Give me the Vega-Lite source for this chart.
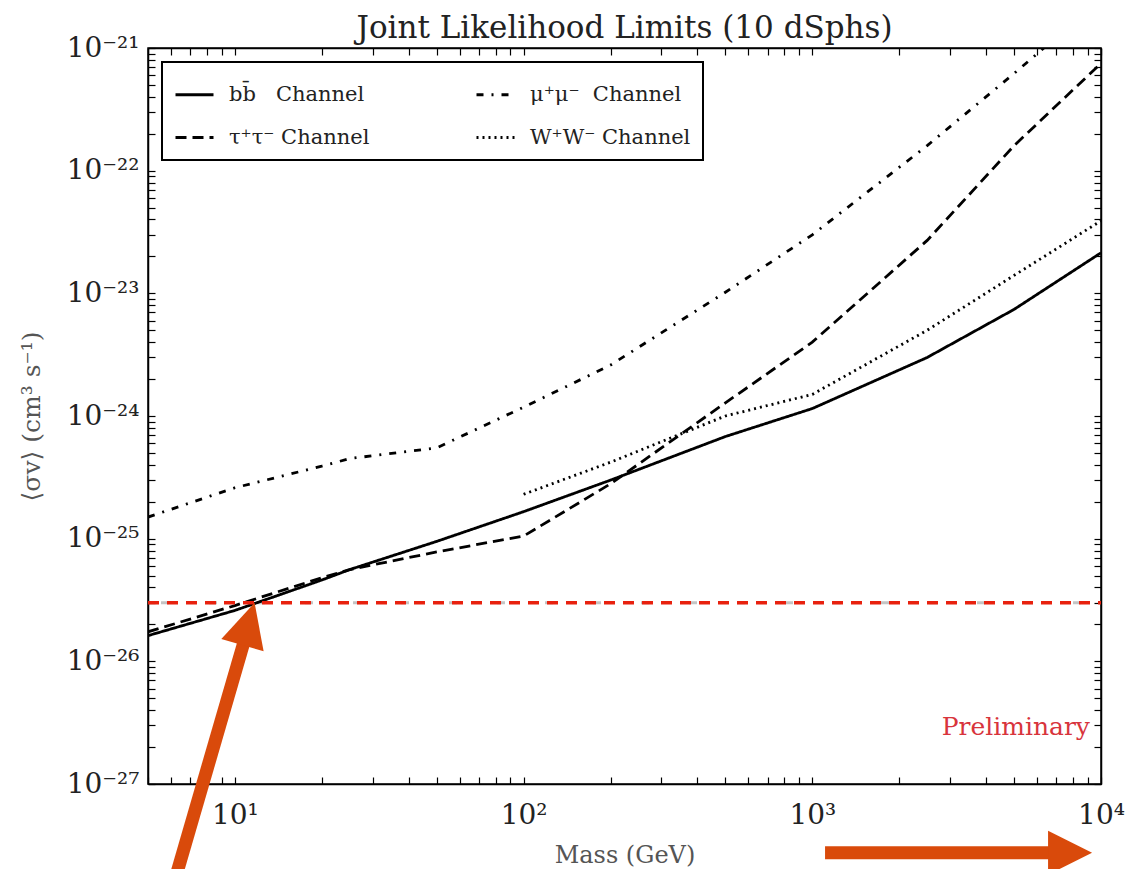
{
  "$schema": "https://vega.github.io/schema/vega-lite/v6.json",
  "width": 953,
  "height": 736,
  "autosize": {"type": "none"},
  "padding": {"left": 148, "top": 48, "right": 28, "bottom": 85},
  "background": "white",
  "title": {"text": "Joint Likelihood Limits (10 dSphs)", "font": "DejaVu Serif", "fontSize": 31, "fontWeight": "normal", "color": "#222", "offset": 6, "dy": 17, "anchor": "middle"},
  "config": {
    "view": {"stroke": "black", "strokeWidth": 1.5},
    "axis": {"domainColor": "black", "domainWidth": 1.5, "tickColor": "black", "tickWidth": 1.2, "grid": false, "labelFont": "DejaVu Serif", "labelFontSize": 28, "labelColor": "#222", "titleFont": "DejaVu Serif", "titleFontWeight": "normal", "titleColor": "#555"},
    "legend": {"labelFont": "DejaVu Serif", "labelFontSize": 21, "labelColor": "#222", "strokeWidth": 2}
  },
  "datasets": {
    "curves": [
      {"channel": "bb", "mass": 5, "sv": 1.62e-26},
      {"channel": "bb", "mass": 10, "sv": 2.6e-26},
      {"channel": "bb", "mass": 20, "sv": 4.6e-26},
      {"channel": "bb", "mass": 25, "sv": 5.6e-26},
      {"channel": "bb", "mass": 50, "sv": 9.5e-26},
      {"channel": "bb", "mass": 100, "sv": 1.66e-25},
      {"channel": "bb", "mass": 200, "sv": 3.0e-25},
      {"channel": "bb", "mass": 500, "sv": 6.8e-25},
      {"channel": "bb", "mass": 1000, "sv": 1.15e-24},
      {"channel": "bb", "mass": 2500, "sv": 3.0e-24},
      {"channel": "bb", "mass": 5000, "sv": 7.4e-24},
      {"channel": "bb", "mass": 10000, "sv": 2.14e-23},
      {"channel": "tautau", "mass": 5, "sv": 1.74e-26},
      {"channel": "tautau", "mass": 10, "sv": 2.85e-26},
      {"channel": "tautau", "mass": 20, "sv": 4.8e-26},
      {"channel": "tautau", "mass": 25, "sv": 5.6e-26},
      {"channel": "tautau", "mass": 50, "sv": 7.8e-26},
      {"channel": "tautau", "mass": 100, "sv": 1.05e-25},
      {"channel": "tautau", "mass": 200, "sv": 2.8e-25},
      {"channel": "tautau", "mass": 500, "sv": 1.28e-24},
      {"channel": "tautau", "mass": 1000, "sv": 4.0e-24},
      {"channel": "tautau", "mass": 2500, "sv": 2.7e-23},
      {"channel": "tautau", "mass": 5000, "sv": 1.6e-22},
      {"channel": "tautau", "mass": 10000, "sv": 7.5e-22},
      {"channel": "mumu", "mass": 5, "sv": 1.5e-25},
      {"channel": "mumu", "mass": 10, "sv": 2.6e-25},
      {"channel": "mumu", "mass": 20, "sv": 3.9e-25},
      {"channel": "mumu", "mass": 25, "sv": 4.5e-25},
      {"channel": "mumu", "mass": 50, "sv": 5.5e-25},
      {"channel": "mumu", "mass": 100, "sv": 1.18e-24},
      {"channel": "mumu", "mass": 200, "sv": 2.6e-24},
      {"channel": "mumu", "mass": 500, "sv": 1.02e-23},
      {"channel": "mumu", "mass": 1000, "sv": 3.0e-23},
      {"channel": "mumu", "mass": 2500, "sv": 1.6e-22},
      {"channel": "mumu", "mass": 5000, "sv": 6.2e-22},
      {"channel": "mumu", "mass": 10000, "sv": 2.5e-21},
      {"channel": "WW", "mass": 100, "sv": 2.3e-25},
      {"channel": "WW", "mass": 200, "sv": 4.2e-25},
      {"channel": "WW", "mass": 500, "sv": 1.0e-24},
      {"channel": "WW", "mass": 1000, "sv": 1.5e-24},
      {"channel": "WW", "mass": 2500, "sv": 5.0e-24},
      {"channel": "WW", "mass": 5000, "sv": 1.4e-23},
      {"channel": "WW", "mass": 10000, "sv": 3.9e-23}
    ],
    "relic": [
      {"mass": 5, "sv": 3e-26},
      {"mass": 10000, "sv": 3e-26}
    ],
    "arrows": [
      {"arrow": "a1", "mass": 6.2, "sv": 1.66e-28},
      {"arrow": "a1", "mass": 10.9, "sv": 1.61e-26},
      {"arrow": "a2", "mass": 1107, "sv": 2.75e-28},
      {"arrow": "a2", "mass": 6900, "sv": 2.75e-28}
    ],
    "head1": [{"mass": 11.7, "sv": 3e-26}],
    "head2": [{"mass": 9310, "sv": 2.75e-28}],
    "notes": [{"label": "Preliminary", "mass": 9160, "sv": 2.9e-27}]
  },
  "layer": [
    {
      "data": {"name": "relic"},
      "mark": {"type": "line", "color": "#c4c4c4", "strokeWidth": 3, "strokeDash": [8, 40], "strokeDashOffset": -13, "clip": true},
      "encoding": {
        "x": {"field": "mass", "type": "quantitative", "scale": {"type": "log", "domain": [5, 10000], "nice": false},
          "axis": {"orient": "top", "labels": false, "title": null, "domain": true,
            "values": [5,6,7,8,9,10,20,30,40,50,60,70,80,90,100,200,300,400,500,600,700,800,900,1000,2000,3000,4000,5000,6000,7000,8000,9000,10000],
            "tickSize": -7}},
        "y": {"field": "sv", "type": "quantitative", "scale": {"type": "log", "domain": [1e-27, 1e-21], "nice": false},
          "axis": {"orient": "right", "labels": false, "title": null, "domain": true,
            "values": [1e-27,2e-27,3e-27,4e-27,5e-27,6e-27,7e-27,8e-27,9e-27,1e-26,2e-26,3e-26,4e-26,5e-26,6e-26,7e-26,8e-26,9e-26,1e-25,2e-25,3e-25,4e-25,5e-25,6e-25,7e-25,8e-25,9e-25,1e-24,2e-24,3e-24,4e-24,5e-24,6e-24,7e-24,8e-24,9e-24,1e-23,2e-23,3e-23,4e-23,5e-23,6e-23,7e-23,8e-23,9e-23,1e-22,2e-22,3e-22,4e-22,5e-22,6e-22,7e-22,8e-22,9e-22,1e-21],
            "tickSize": -7}}
      }
    },
    {
      "data": {"name": "curves"},
      "mark": {"type": "line", "color": "black", "strokeWidth": 2.8, "clip": true},
      "encoding": {
        "x": {"field": "mass", "type": "quantitative", "scale": {"type": "log", "domain": [5, 10000], "nice": false},
          "axis": {"orient": "bottom", "title": "Mass (GeV)", "titleFontSize": 24, "titlePadding": 14,
            "values": [5,6,7,8,9,10,20,30,40,50,60,70,80,90,100,200,300,400,500,600,700,800,900,1000,2000,3000,4000,5000,6000,7000,8000,9000,10000],
            "labelExpr": "datum.value==10?'10¹':datum.value==100?'10²':datum.value==1000?'10³':datum.value==10000?'10⁴':''",
            "labelPadding": 24, "labelFlush": false, "labelOverlap": false,
            "tickSize": -7}},
        "y": {"field": "sv", "type": "quantitative", "scale": {"type": "log", "domain": [1e-27, 1e-21], "nice": false},
          "axis": {"orient": "left", "title": "⟨σv⟩ (cm³ s⁻¹)", "titleFontSize": 25, "titlePadding": 22,
            "values": [1e-27,2e-27,3e-27,4e-27,5e-27,6e-27,7e-27,8e-27,9e-27,1e-26,2e-26,3e-26,4e-26,5e-26,6e-26,7e-26,8e-26,9e-26,1e-25,2e-25,3e-25,4e-25,5e-25,6e-25,7e-25,8e-25,9e-25,1e-24,2e-24,3e-24,4e-24,5e-24,6e-24,7e-24,8e-24,9e-24,1e-23,2e-23,3e-23,4e-23,5e-23,6e-23,7e-23,8e-23,9e-23,1e-22,2e-22,3e-22,4e-22,5e-22,6e-22,7e-22,8e-22,9e-22,1e-21],
            "labelExpr": "abs(log(datum.value)/LN10+21)<0.001?'10⁻²¹':abs(log(datum.value)/LN10+22)<0.001?'10⁻²²':abs(log(datum.value)/LN10+23)<0.001?'10⁻²³':abs(log(datum.value)/LN10+24)<0.001?'10⁻²⁴':abs(log(datum.value)/LN10+25)<0.001?'10⁻²⁵':abs(log(datum.value)/LN10+26)<0.001?'10⁻²⁶':abs(log(datum.value)/LN10+27)<0.001?'10⁻²⁷':''",
            "labelPadding": 16, "labelFlush": false, "labelOverlap": false,
            "tickSize": -7}},
        "strokeDash": {"field": "channel", "type": "nominal",
          "scale": {"domain": ["bb", "tautau", "mumu", "WW"], "range": [[1, 0], [11, 6], [7, 8, 2, 8], [2, 4]]},
          "legend": {"title": null, "orient": "top-left", "offset": 14, "columns": 2, "symbolType": "stroke", "symbolSize": 1444, "symbolStrokeWidth": 3, "symbolStrokeColor": "black",
            "fillColor": "white", "strokeColor": "black", "padding": 12, "columnPadding": 100, "rowPadding": 12, "labelOffset": 14, "labelLimit": 400,
            "labelExpr": "datum.value=='bb'?'\u2007\u2007bb̄\u00a0\u00a0\u00a0Channel':datum.value=='mumu'?'μ⁺μ⁻\u00a0\u00a0Channel':datum.value=='tautau'?'τ⁺τ⁻\u00a0Channel':'W⁺W⁻\u00a0Channel'"}}
      }
    },
    {
      "data": {"name": "relic"},
      "mark": {"type": "line", "color": "#e8210e", "strokeWidth": 3.4, "strokeDash": [11, 8], "clip": true},
      "encoding": {
        "x": {"field": "mass", "type": "quantitative", "scale": {"type": "log", "domain": [5, 10000], "nice": false}, "axis": null},
        "y": {"field": "sv", "type": "quantitative", "scale": {"type": "log", "domain": [1e-27, 1e-21], "nice": false}, "axis": null}
      }
    },
    {
      "data": {"name": "notes"},
      "mark": {"type": "text", "align": "right", "baseline": "middle", "font": "DejaVu Serif", "fontSize": 25, "color": "#d8343c"},
      "encoding": {
        "x": {"field": "mass", "type": "quantitative", "scale": {"type": "log", "domain": [5, 10000], "nice": false}, "axis": null},
        "y": {"field": "sv", "type": "quantitative", "scale": {"type": "log", "domain": [1e-27, 1e-21], "nice": false}, "axis": null},
        "text": {"field": "label"}
      }
    },
    {
      "data": {"name": "arrows"},
      "mark": {"type": "line", "color": "#d94a0b", "strokeWidth": 13, "strokeCap": "butt", "clip": false},
      "encoding": {
        "x": {"field": "mass", "type": "quantitative", "scale": {"type": "log", "domain": [5, 10000], "nice": false}, "axis": null},
        "y": {"field": "sv", "type": "quantitative", "scale": {"type": "log", "domain": [1e-27, 1e-21], "nice": false}, "axis": null},
        "detail": {"field": "arrow"}
      }
    },
    {
      "data": {"name": "head1"},
      "mark": {"type": "point", "shape": "M0,0L0.5,1L-0.5,1Z", "filled": true, "color": "#d94a0b", "opacity": 1, "size": 7744, "angle": 16, "clip": false},
      "encoding": {
        "x": {"field": "mass", "type": "quantitative", "scale": {"type": "log", "domain": [5, 10000], "nice": false}, "axis": null},
        "y": {"field": "sv", "type": "quantitative", "scale": {"type": "log", "domain": [1e-27, 1e-21], "nice": false}, "axis": null}
      }
    },
    {
      "data": {"name": "head2"},
      "mark": {"type": "point", "shape": "M0,0L0.5,1L-0.5,1Z", "filled": true, "color": "#d94a0b", "opacity": 1, "size": 7744, "angle": 90, "clip": false},
      "encoding": {
        "x": {"field": "mass", "type": "quantitative", "scale": {"type": "log", "domain": [5, 10000], "nice": false}, "axis": null},
        "y": {"field": "sv", "type": "quantitative", "scale": {"type": "log", "domain": [1e-27, 1e-21], "nice": false}, "axis": null}
      }
    }
  ],
  "resolve": {"axis": {"x": "independent", "y": "independent"}}
}
